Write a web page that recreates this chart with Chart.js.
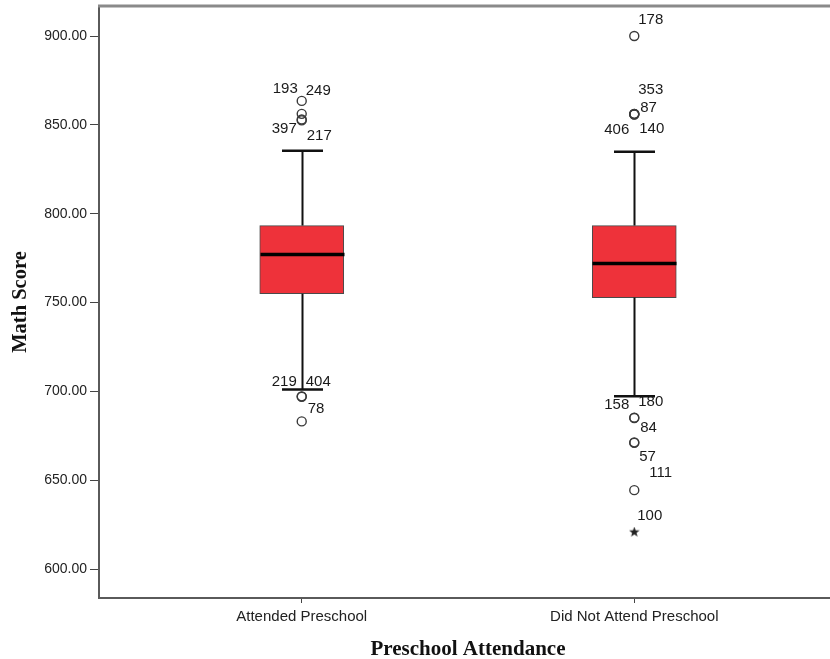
<!DOCTYPE html>
<html>
<head>
<meta charset="utf-8">
<script src="https://cdn.jsdelivr.net/npm/chart.js@4.4.1/dist/chart.umd.min.js"></script>
<style>
  html, body { margin: 0; padding: 0; background: #ffffff; overflow: hidden; }
  #wrap { width: 830px; height: 659px; overflow: hidden; position: relative; }
  #c { position: absolute; left: 0; top: 0; }
</style>
</head>
<body>
<div id="wrap"><canvas id="c" width="843" height="659"></canvas></div>
<script>
// ---- Data ----
const groups = ['Attended Preschool', 'Did Not Attend Preschool'];
const q1 = [755.0, 752.8];
const median = [777.0, 771.9];
const q3 = [793.3, 793.3];
const whiskerLow = [701.1, 697.2];
const whiskerHigh = [835.4, 834.8];

// outliers (circles)
const outlierCase  = ['193', '249', '397', '217', '219', '404', '78',
                      '178', '353', '87', '406', '140', '158', '180', '84', '57', '111'];
const outlierGroup = [0, 0, 0, 0, 0, 0, 0,
                      1, 1, 1, 1, 1, 1, 1, 1, 1, 1];
const outlierValue = [863.5, 856.2, 853.0, 852.5, 697.2, 697.0, 683.1,
                      900.0, 856.0, 856.2, 855.8, 856.1, 685.0, 685.2, 671.3, 671.0, 644.4];

// extremes (stars)
const extremeCase  = ['100'];
const extremeGroup = [1];
const extremeValue = [620.8];

const yTicks = [600, 650, 700, 750, 800, 850, 900];

// ---- Styling for case-number labels (pixel offsets from the marker) ----
const labelStyle = {
  '193': {dx: -4, dy: -12, align: 'right'},
  '249': {dx: 4,  dy: -23, align: 'left'},
  '397': {dx: -5, dy: 9,   align: 'right'},
  '217': {dx: 5,  dy: 15,  align: 'left'},
  '219': {dx: -5, dy: -14, align: 'right'},
  '404': {dx: 4,  dy: -15, align: 'left'},
  '78':  {dx: 6,  dy: -13, align: 'left'},
  '178': {dx: 4,  dy: -16, align: 'left'},
  '353': {dx: 4,  dy: -24, align: 'left'},
  '87':  {dx: 6,  dy: -6,  align: 'left'},
  '406': {dx: -5, dy: 15,  align: 'right'},
  '140': {dx: 5,  dy: 15,  align: 'left'},
  '158': {dx: -5, dy: -13, align: 'right'},
  '180': {dx: 4,  dy: -16, align: 'left'},
  '84':  {dx: 6,  dy: -15, align: 'left'},
  '57':  {dx: 5,  dy: 14,  align: 'left'},
  '111': {dx: 15, dy: -17, align: 'left'},
  '100': {dx: 3,  dy: -16, align: 'left'}
};

const FONT = "'Liberation Sans', Arial, sans-serif";
const SERIF = "'Liberation Serif', 'Times New Roman', serif";

// star marker
function makeStar(size, color) {
  const cv = document.createElement('canvas');
  cv.width = size; cv.height = size;
  const g = cv.getContext('2d');
  const cx = size / 2, cy = size / 2, R = size / 2, r = R * 0.42;
  g.beginPath();
  for (let i = 0; i < 10; i++) {
    const rad = (i % 2 === 0) ? R : r;
    const a = -Math.PI / 2 + i * Math.PI / 5;
    const px = cx + rad * Math.cos(a), py = cy + rad * Math.sin(a);
    if (i === 0) g.moveTo(px, py); else g.lineTo(px, py);
  }
  g.closePath();
  g.fillStyle = color;
  g.fill();
  return cv;
}
const starImg = makeStar(11, '#222222');

function noPad(scale) {
  scale.paddingTop = 0; scale.paddingBottom = 0;
  scale.paddingLeft = 0; scale.paddingRight = 0;
}

const boxPlugin = {
  id: 'boxParts',
  afterDatasetsDraw(chart) {
    const ctx = chart.ctx;
    const xs = chart.scales.x, ys = chart.scales.y;
    const half = 42, capHalf = 20.5;
    ctx.save();
    for (let i = 0; i < groups.length; i++) {
      const x = Math.round(xs.getPixelForValue(i + 1)) + 0.5;
      ctx.strokeStyle = '#111111';
      ctx.lineWidth = 2;
      ctx.beginPath();
      ctx.moveTo(x, ys.getPixelForValue(q3[i]));
      ctx.lineTo(x, ys.getPixelForValue(whiskerHigh[i]));
      ctx.moveTo(x, ys.getPixelForValue(q1[i]));
      ctx.lineTo(x, ys.getPixelForValue(whiskerLow[i]));
      ctx.stroke();
      ctx.lineWidth = 2.5;
      ctx.beginPath();
      const yh = ys.getPixelForValue(whiskerHigh[i]);
      const yl = ys.getPixelForValue(whiskerLow[i]);
      ctx.moveTo(x - capHalf, yh); ctx.lineTo(x + capHalf, yh);
      ctx.moveTo(x - capHalf, yl); ctx.lineTo(x + capHalf, yl);
      ctx.stroke();
      ctx.lineWidth = 3.5;
      ctx.strokeStyle = '#000000';
      const ym = ys.getPixelForValue(median[i]);
      ctx.beginPath();
      ctx.moveTo(x - half, ym); ctx.lineTo(x + half, ym);
      ctx.stroke();
    }
    // top frame line
    ctx.strokeStyle = '#8a8a8a';
    ctx.lineWidth = 3;
    ctx.beginPath();
    ctx.moveTo(chart.chartArea.left - 1, chart.chartArea.top);
    ctx.lineTo(chart.width, chart.chartArea.top);
    ctx.stroke();
    // case labels
    ctx.font = '15px ' + FONT;
    ctx.fillStyle = '#1a1a1a';
    ctx.textBaseline = 'middle';
    const drawLabel = (c, gi, v) => {
      const st = labelStyle[c] || {dx: 5, dy: -12, align: 'left'};
      const x = xs.getPixelForValue(gi + 1) + st.dx;
      const y = ys.getPixelForValue(v) + st.dy;
      ctx.textAlign = st.align;
      ctx.fillText(c, x, y);
    };
    outlierCase.forEach((c, k) => drawLabel(c, outlierGroup[k], outlierValue[k]));
    extremeCase.forEach((c, k) => drawLabel(c, extremeGroup[k], extremeValue[k]));
    ctx.restore();
  }
};

const ctx = document.getElementById('c').getContext('2d');
new Chart(ctx, {
  type: 'bar',
  data: {
    datasets: [
      {
        type: 'bar',
        data: groups.map((g, i) => ({x: i + 1, y: [q1[i], q3[i]]})),
        backgroundColor: '#EE323A',
        borderColor: '#4a4a4a',
        borderWidth: 1,
        borderSkipped: false,
        barThickness: 84
      },
      {
        type: 'scatter',
        data: outlierValue.map((v, k) => ({x: outlierGroup[k] + 1, y: v})),
        pointStyle: 'circle',
        pointRadius: 4.5,
        pointBorderWidth: 1.4,
        pointBorderColor: '#3a3a3a',
        pointBackgroundColor: 'rgba(255,255,255,0)'
      },
      {
        type: 'scatter',
        data: extremeValue.map((v, k) => ({x: extremeGroup[k] + 1, y: v})),
        pointStyle: starImg,
        pointRadius: 5
      }
    ]
  },
  options: {
    responsive: false,
    animation: false,
    events: [],
    layout: { padding: { top: 5, left: 0, right: 0, bottom: 0 } },
    plugins: { legend: { display: false }, tooltip: { enabled: false } },
    scales: {
      x: {
        type: 'linear',
        min: 0.3904,
        max: 2.6096,
        offset: false,
        afterFit(scale) { scale.height = 61; noPad(scale); },
        afterBuildTicks(scale) { scale.ticks = groups.map((g, i) => ({value: i + 1})); },
        ticks: {
          autoSkip: false,
          maxRotation: 0,
          padding: 5,
          color: '#222222',
          font: { family: FONT, size: 15 },
          callback: (v) => groups[Math.round(v) - 1]
        },
        grid: { display: true, drawOnChartArea: false, drawTicks: true, tickLength: 5, offset: false, color: '#444444', lineWidth: 1 },
        border: { display: true, color: '#5a5a5a', width: 2 },
        title: {
          display: true,
          text: 'Preschool Attendance',
          color: '#111111',
          font: { family: SERIF, size: 21, weight: 'bold', lineHeight: 0.9 },
          padding: { top: 0, bottom: 0 }
        }
      },
      y: {
        type: 'linear',
        min: 583.7,
        max: 916.9,
        beginAtZero: false,
        afterFit(scale) { scale.width = 99; noPad(scale); },
        afterBuildTicks(scale) { scale.ticks = yTicks.map(v => ({value: v})); },
        ticks: {
          padding: 3,
          color: '#222222',
          font: { family: FONT, size: 14 },
          callback: (v) => Number(v).toFixed(2)
        },
        grid: { display: true, drawOnChartArea: false, drawTicks: true, tickLength: 9, color: '#444444', lineWidth: 1 },
        border: { display: true, color: '#5a5a5a', width: 2 },
        title: {
          display: true,
          text: 'Math Score',
          color: '#111111',
          font: { family: SERIF, size: 20.5, weight: 'bold', lineHeight: 1.2 },
          padding: { top: 8, bottom: 0 }
        }
      }
    }
  },
  plugins: [boxPlugin]
});
</script>
</body>
</html>
